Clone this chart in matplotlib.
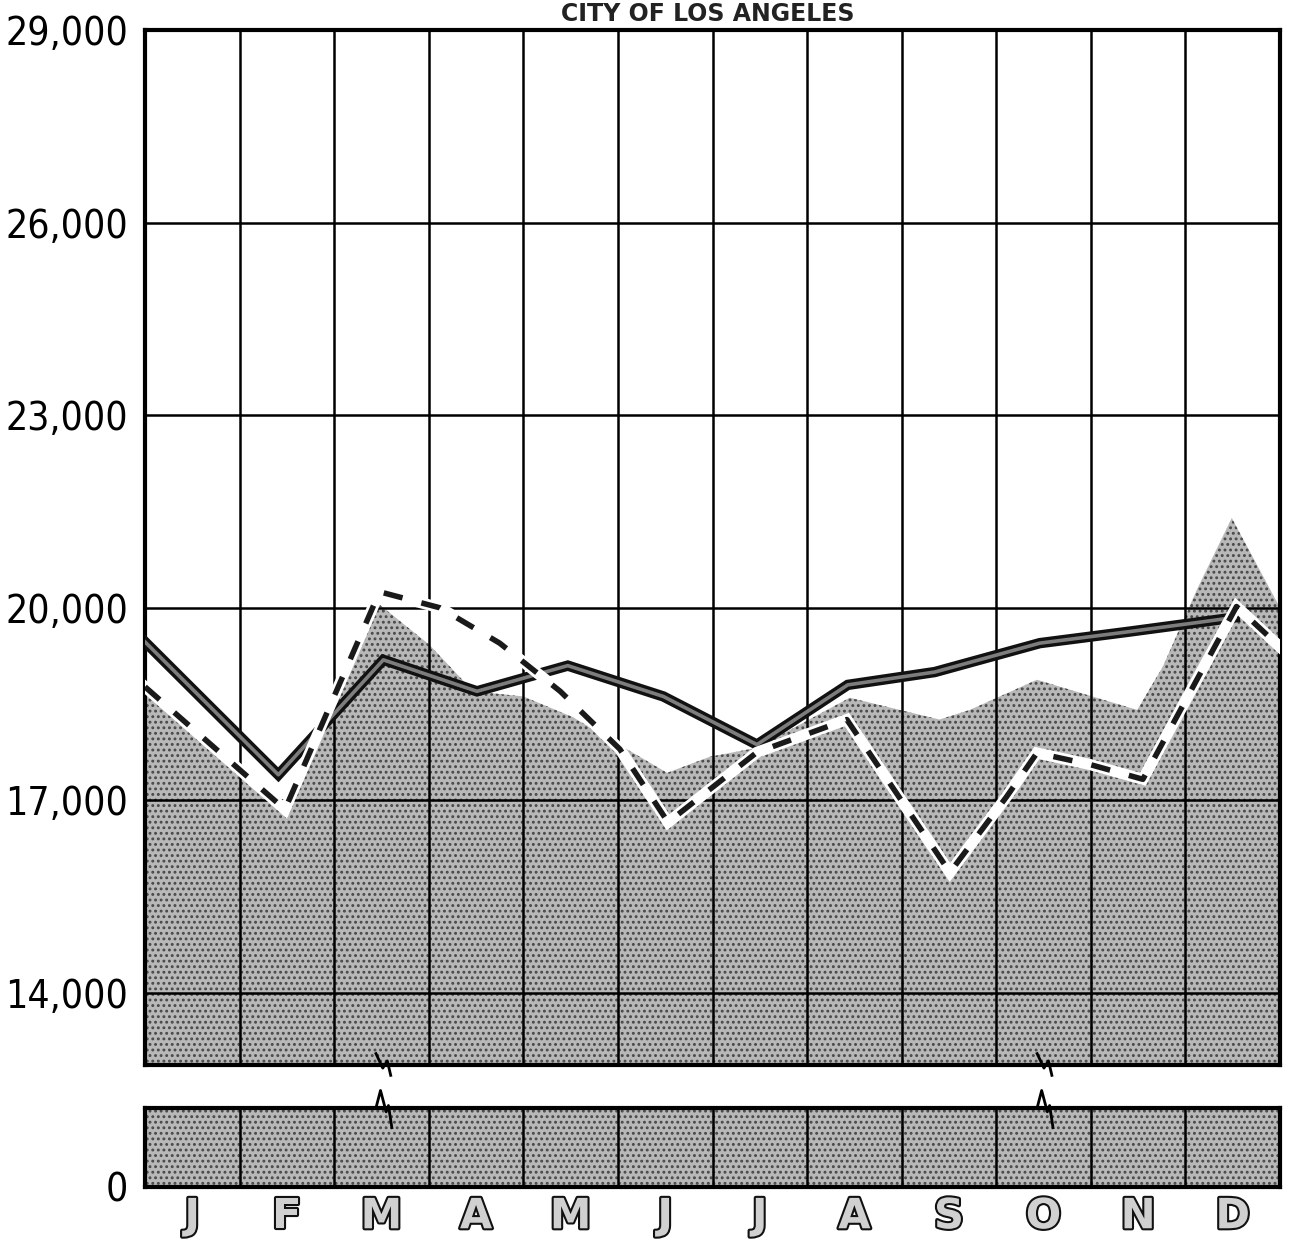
import matplotlib
matplotlib.use("Agg")
import matplotlib.pyplot as plt
import matplotlib.patheffects as pe

# meses (columnas) y etiquetas del eje
meses = ['J', 'F', 'M', 'A', 'M', 'J', 'J', 'A', 'S', 'O', 'N', 'D']
marcas_y = [14000, 17000, 20000, 23000, 26000, 29000]
etiquetas_y = ['14,000', '17,000', '20,000', '23,000', '26,000', '29,000']

# area punteada (posicion en meses, valor)
area_pos = [0, 1.5, 2.48, 3.01, 3.47, 4.0, 4.52, 4.92, 5.52, 5.97, 6.47, 7.45,
            7.98, 8.40, 8.72, 9.43, 9.88, 10.49, 10.76, 11.12, 11.49, 12.0]
area_val = [18700, 16950, 20050, 19420, 18700, 18620, 18300, 17950, 17430, 17680,
            17820, 18600, 18410, 18260, 18410, 18880, 18680, 18410, 19080, 20280,
            21400, 20000]

# linea solida gruesa
solida_pos = [0, 1.41, 2.52, 3.51, 4.47, 5.48, 6.47, 7.43, 8.35, 9.46, 10.41, 11.12, 11.52]
solida_val = [19470, 17400, 19190, 18700, 19100, 18620, 17870, 18800, 19000, 19450,
              19630, 19770, 19850]

# linea de rombos (zigzag)
rombos_pos = [0, 1.48, 2.48, 3.12, 3.75, 4.39, 5.02, 5.53, 6.47, 7.42, 8.51, 9.11,
              9.43, 9.99, 10.55, 11.54, 12.0]
rombos_val = [18770, 16860, 20250, 20000, 19450, 18700, 17800, 16660, 17750, 18260,
              15880, 17060, 17740, 17560, 17330, 20020, 19390]

fig = plt.figure(figsize=(12.91, 12.43), dpi=100)
ax = fig.add_axes([0.1123, 0.1432, 0.8792, 0.8327])
ax2 = fig.add_axes([0.1123, 0.0451, 0.8792, 0.0636])

plt.rcParams['hatch.linewidth'] = 1.3
num_kw = dict(fontsize=28, family='DejaVu Sans', fontstretch='condensed')

for a in (ax, ax2):
    a.fill_between(area_pos, 0, area_val, facecolor='#b8b8b8', hatch='...',
                   edgecolor='#484848', linewidth=0, zorder=1)
    for i in range(1, 12):
        a.axvline(i, color='black', lw=1.8, zorder=2)
    for s in a.spines.values():
        s.set_linewidth(3)
    a.set_xlim(0, 12)
    a.tick_params(length=0)

ax.set_ylim(12880, 29000)
for v in marcas_y[:-1]:
    ax.axhline(v, color='black', lw=1.8, zorder=2)
ax.set_yticks(marcas_y)
ax.set_yticklabels(etiquetas_y, **num_kw)
ax.set_xticks([])
ax.tick_params(axis='y', pad=12)

ax2.set_ylim(0, 1250)
ax2.set_yticks([0])
ax2.set_yticklabels(['0'], **num_kw)
ax2.tick_params(axis='y', pad=12)
ax2.set_xticks([i + 0.5 for i in range(12)])
ax2.set_xticklabels(meses, fontsize=30, fontweight='bold', color='#d0d0d0',
                    path_effects=[pe.withStroke(linewidth=3, foreground='#111111')])
ax2.tick_params(axis='x', pad=6)

# linea solida: borde negro con interior gris
ax.plot(solida_pos, solida_val, color='#111111', lw=7.5, solid_joinstyle='miter', zorder=4)
ax.plot(solida_pos, solida_val, color='#7d7d7d', lw=2.6, zorder=5)

# linea de rombos: banda blanca con rombos negros
ax.plot(rombos_pos, rombos_val, color='white', lw=8, solid_joinstyle='miter', zorder=6)
ax.plot(rombos_pos, rombos_val, color='#1a1a1a', lw=4, dashes=(3.5, 3.5),
        dash_capstyle='butt', zorder=7)

# marcas de corte del eje
for xf in (0.2115, 0.794):
    ax.plot([xf - 0.008, xf - 0.002, xf + 0.002, xf + 0.005],
            [0.011, -0.003, 0.004, -0.010], transform=ax.transAxes,
            color='black', lw=2, clip_on=False, zorder=8)
    ax2.plot([xf - 0.008, xf - 0.004, xf + 0.001, xf + 0.003, xf + 0.006],
             [1.0, 1.22, 0.95, 1.03, 0.75], transform=ax2.transAxes,
             color='black', lw=2, clip_on=False, zorder=8)

fig.text(0.548, 0.9885, 'CITY OF LOS ANGELES', ha='center', va='center',
         fontsize=17, fontweight='bold', color='#222222')

fig.savefig('out.png', dpi=100)
